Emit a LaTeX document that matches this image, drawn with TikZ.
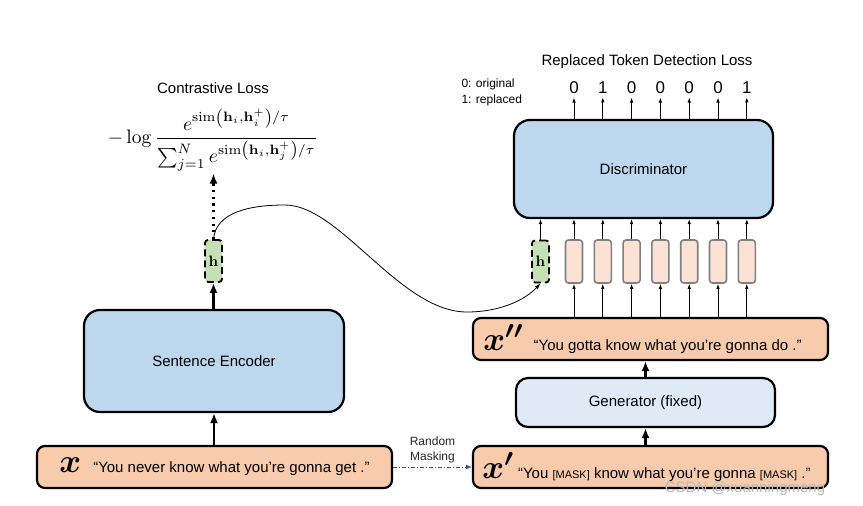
\documentclass[tikz,border=0pt]{standalone}
\usepackage[no-math]{fontspec}
\setmainfont{Liberation Sans}
\usepackage{amsmath,graphicx}
\usetikzlibrary{arrows.meta}

\definecolor{peach}{RGB}{247,203,172}
\definecolor{tokpeach}{RGB}{251,226,213}
\definecolor{encblue}{RGB}{189,215,238}
\definecolor{genblue}{RGB}{222,235,247}
\definecolor{hgreen}{RGB}{197,224,180}
\definecolor{maskgray}{RGB}{68,84,106}

\tikzset{
	box/.style={draw, line width=2.2pt, inner sep=0pt, font=\fontsize{15}{18}\selectfont},
	inbox/.style={box, fill=peach, rounded corners=8pt, minimum width=355pt, minimum height=42pt},
	bluebox/.style={box, fill=encblue, rounded corners=16pt},
	hvec/.style={draw, line width=1.8pt, dash pattern=on 7pt off 4pt, fill=hgreen, rounded corners=3pt, minimum width=17pt, minimum height=42pt, inner sep=0pt},
	tokbox/.style={draw=gray, line width=1.6pt, fill=tokpeach, rounded corners=3pt, minimum width=17pt, minimum height=43pt, inner sep=0pt},
	bigarrow/.style={line width=2.4pt, -{Latex[length=10pt,width=8pt]}},
	thinarrow/.style={line width=0.8pt, -{Latex[length=5pt,width=3.5pt]}},
}

\newcommand{\bigx}[1]{\scalebox{2.3}{$\boldsymbol{#1}$}}
\newcommand{\masktok}{{\fontsize{11}{12}\selectfont[MASK]}}

\begin{document}
\begin{tikzpicture}[x=1pt,y=-1pt]
	\useasboundingbox (0,0) rectangle (863,506);
	
	% contrastive side
	\node[inbox] (inx) at (214.5,467) {\bigx{x}\hspace{12pt}“You never know what you’re gonna get .”};
	\node[bluebox, minimum width=260pt, minimum height=102pt] (enc) at (214,361) {Sentence Encoder};
	\node[hvec] (hleft) at (213.5,261) {\scalebox{1.5}{$\mathbf{h}$}};
	\node[inner sep=2pt] (cl) at (213,140)
		{\scalebox{1.95}{$\displaystyle -\log\frac{e^{\mathrm{sim}\left(\mathbf{h}_i,\mathbf{h}_i^+\right)/\tau}}{\sum_{j=1}^N e^{\mathrm{sim}\left(\mathbf{h}_i,\mathbf{h}_j^+\right)/\tau}}$}};
	\node[font=\fontsize{15}{18}\selectfont] (cltitle) at (213,88) {Contrastive Loss};
	
	% ELECTRA side
	\node[inbox] (xp) at (650.5,467) {\bigx{x'}\hspace{4pt}“You \masktok{} know what you’re gonna \masktok{} .”\hspace*{8pt}};
	\node[box, fill=genblue, rounded corners=12pt, minimum width=259pt, minimum height=49pt] (gen) at (645.5,402.5) {Generator (fixed)};
	\node[inbox] (xpp) at (650.5,339) {\bigx{x''}\hspace{10pt}“You gotta know what you’re gonna do .”\hspace*{16pt}};
	\node[hvec] (hright) at (540.5,261.5) {\scalebox{1.5}{$\mathbf{h}$}};
	\foreach \i in {1,...,7}
		\node[tokbox] (tok\i) at ({545.2+28.8*\i},261.5) {};
	\node[bluebox, minimum width=259pt, minimum height=98pt] (disc) at (643.5,169) {Discriminator};
	\foreach \b [count=\i] in {0,1,0,0,0,0,1}
		\node[font=\fontsize{17}{20}\selectfont] (out\i) at ({545.2+28.8*\i},88) {\b};
	\node[anchor=west, align=left, font=\fontsize{12}{16}\selectfont] (legend) at (458,92) {0: original\\1: replaced};
	\node[font=\fontsize{15}{18}\selectfont] (rtdtitle) at (647,62) {Replaced Token Detection Loss};
	\node[text=gray!55, font=\fontsize{15}{18}\selectfont] (mark) at (745,489) {CSDN @xuanningmeng};
	
	\draw[bigarrow] (inx.north -| enc.south) -- (enc.south);
	\draw[bigarrow] (enc.north -| hleft.south) -- (hleft.south);
	\draw[line width=2.2pt, dash pattern=on 2.2pt off 4.5pt, -{Latex[length=10pt,width=8pt]}] (hleft.north) -- (hleft.north |- cl.south);
	\draw[line width=0.8pt, -{Latex[length=6pt,width=4pt]}] (hleft.north) .. controls (216,212) and (250,205) .. (285,205)
		.. controls (340,205) and (400,312) .. (467,312) .. controls (500,312) and (525,300) .. (hright.south);
	\draw[line width=0.9pt, maskgray, dash pattern=on 4pt off 2pt on 1pt off 2pt, -{Latex[length=6pt,width=5pt]}] (inx.east) --
		node[above, align=center, text=black!85, font=\fontsize{12}{15}\selectfont] (masklabel) {Random\\Masking} (xp.west);
	\draw[bigarrow] (xp.north -| gen.south) -- (gen.south);
	\draw[bigarrow] (gen.north) -- (gen.north |- xpp.south);
	\foreach \i in {1,...,7}{
		\draw[thinarrow] (tok\i.south |- xpp.north) -- (tok\i.south);
		\draw[thinarrow] (tok\i.north) -- (tok\i.north |- disc.south);
		\draw[thinarrow] (disc.north -| out\i.south) -- (out\i.south);
	}
	\draw[thinarrow] (hright.north) -- (hright.north |- disc.south);
\end{tikzpicture}
\end{document}
